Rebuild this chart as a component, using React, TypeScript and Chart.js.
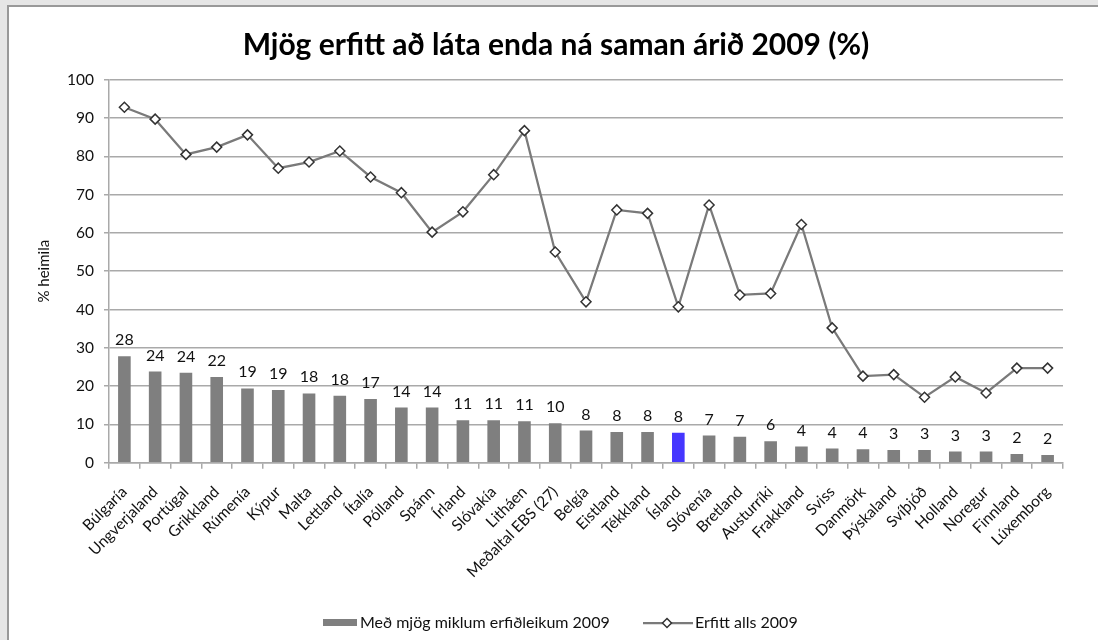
import React, { useEffect, useRef } from "react";
import { Chart, registerables } from "chart.js";

Chart.register(...registerables);

const categories = [
  "Búlgaría", "Ungverjaland", "Portúgal", "Grikkland", "Rúmenía", "Kýpur", "Malta",
  "Lettland", "Ítalía", "Pólland", "Spánn", "Írland", "Slóvakía", "Litháen",
  "Meðaltal EBS (27)", "Belgía", "Eistland", "Tékkland", "Ísland", "Slóvenía",
  "Bretland", "Austurríki", "Frakkland", "Sviss", "Danmörk", "Þýskaland", "Svíþjóð",
  "Holland", "Noregur", "Finnland", "Lúxemborg",
];

const barValues = [
  27.8, 23.8, 23.5, 22.4, 19.4, 19.0, 18.1, 17.5, 16.6, 14.4, 14.4, 11.1, 11.1, 10.8,
  10.3, 8.4, 8.0, 8.0, 7.8, 7.1, 6.8, 5.6, 4.2, 3.7, 3.5, 3.3, 3.3, 2.9, 2.9, 2.3, 2.0,
];

const lineValues = [
  92.8, 89.7, 80.5, 82.4, 85.6, 76.9, 78.5, 81.4, 74.6, 70.5, 60.2, 65.5, 75.2, 86.7,
  55.0, 42.0, 66.0, 65.1, 40.7, 67.3, 43.8, 44.2, 62.2, 35.2, 22.6, 23.0, 17.1, 22.4,
  18.2, 24.7, 24.7,
];

const yTicks = [0, 10, 20, 30, 40, 50, 60, 70, 80, 90, 100];

const titleText = "Mjög erfitt að láta enda ná saman árið 2009 (%)";
const yTitle = "% heimila";
const barLabel = "Með mjög miklum erfiðleikum 2009";
const lineLabel = "Erfitt alls 2009";
const highlight = "Ísland";

const FONT = "Lato, 'Open Sans', sans-serif";
const BAR_GRAY = "#7f7f7f";
const BAR_BLUE = "#4536ff";
const LINE_GRAY = "#7a7a7a";
const GRID = "#a9a9a9";

const CW = 1089;
const CH = 633;

export default function App() {
  const ref = useRef<HTMLCanvasElement>(null);

  useEffect(() => {
    document.body.style.margin = "0";
    const canvas = ref.current;
    if (!canvas) return;

    const extras = {
      id: "extras",
      afterDatasetsDraw(chart: any) {
        const ctx = chart.ctx;
        const meta = chart.getDatasetMeta(1);
        ctx.save();
        ctx.font = `16px ${FONT}`;
        ctx.fillStyle = "#111";
        ctx.textAlign = "center";
        ctx.textBaseline = "alphabetic";
        meta.data.forEach((el: any, i: number) => {
          ctx.fillText(String(Math.round(barValues[i])), el.x, el.y - 11);
        });
        ctx.restore();
      },
      afterDraw(chart: any) {
        const ctx = chart.ctx;
        ctx.save();
        // title
        ctx.font = `bold 30px ${FONT}`;
        ctx.fillStyle = "#000";
        ctx.textAlign = "center";
        ctx.textBaseline = "middle";
        ctx.fillText(titleText, 547, 38);

        // legend
        const ly = 616;
        ctx.fillStyle = BAR_GRAY;
        ctx.fillRect(314, ly - 4, 34, 7);
        ctx.font = `16px ${FONT}`;
        ctx.fillStyle = "#111";
        ctx.textAlign = "left";
        ctx.textBaseline = "middle";
        ctx.fillText(barLabel, 351, ly);

        ctx.strokeStyle = LINE_GRAY;
        ctx.lineWidth = 2.25;
        ctx.beginPath();
        ctx.moveTo(634, ly);
        ctx.lineTo(684, ly);
        ctx.stroke();
        ctx.beginPath();
        const dx = 658, r = 4.5;
        ctx.moveTo(dx, ly - r);
        ctx.lineTo(dx + r, ly);
        ctx.lineTo(dx, ly + r);
        ctx.lineTo(dx - r, ly);
        ctx.closePath();
        ctx.fillStyle = "#fff";
        ctx.fill();
        ctx.strokeStyle = "#333";
        ctx.lineWidth = 1.5;
        ctx.stroke();
        ctx.fillStyle = "#111";
        ctx.fillText(lineLabel, 686, ly);
        ctx.restore();
      },
    };

    const chart = new Chart(canvas, {
      type: "bar",
      data: {
        labels: categories,
        datasets: [
          {
            type: "line",
            label: lineLabel,
            data: lineValues,
            borderColor: LINE_GRAY,
            borderWidth: 2.25,
            pointStyle: "rectRot",
            pointRadius: 5,
            pointBackgroundColor: "#fff",
            pointBorderColor: "#333",
            pointBorderWidth: 1.5,
            tension: 0,
            order: 0,
          } as any,
          {
            type: "bar",
            label: barLabel,
            data: barValues,
            backgroundColor: categories.map((c) => (c === highlight ? BAR_BLUE : BAR_GRAY)),
            categoryPercentage: 1,
            barPercentage: 0.41,
            order: 1,
          },
        ],
      },
      options: {
        responsive: false,
        animation: false,
        events: [],
        layout: { padding: { top: 72.7, right: 35, bottom: 0, left: 0 } },
        plugins: {
          legend: { display: false },
          title: { display: false },
          tooltip: { enabled: false },
        },
        scales: {
          x: {
            offset: true,
            grid: {
              offset: true,
              drawOnChartArea: false,
              drawTicks: true,
              tickLength: 6,
              color: GRID,
              lineWidth: 1.5,
            },
            border: { display: true, color: GRID, width: 1.5 },
            ticks: {
              autoSkip: false,
              maxRotation: 45,
              minRotation: 45,
              padding: 14,
              color: "#111",
              font: { family: FONT, size: 15.5 },
            },
            afterFit: (s: any) => {
              s.height = CH - 455.7;
            },
          },
          y: {
            min: 0,
            max: 100,
            afterBuildTicks: (s: any) => {
              s.ticks = yTicks.map((v) => ({ value: v }));
            },
            ticks: {
              padding: 10,
              color: "#111",
              font: { family: FONT, size: 15.5 },
            },
            grid: { color: GRID, lineWidth: 1.5, tickLength: 5 },
            border: { display: true, color: GRID, width: 1.5 },
            title: {
              display: true,
              text: yTitle,
              color: "#111",
              font: { family: FONT, size: 15 },
              padding: { top: 26, bottom: 0 },
            },
            afterFit: (s: any) => {
              s.width = 100;
            },
          },
        },
      },
      plugins: [extras],
    });

    return () => chart.destroy();
  }, []);

  return (
    <div
      style={{
        position: "relative",
        width: 1098,
        height: 640,
        background: "#e6e6e6",
        overflow: "hidden",
      }}
    >
      <div
        style={{
          position: "absolute",
          left: 7,
          top: 5,
          width: 1091,
          height: 635,
          background: "#fff",
          borderLeft: "2px solid #999",
          borderTop: "2px solid #999",
        }}
      >
        <canvas ref={ref} width={CW} height={CH} style={{ display: "block" }} />
      </div>
    </div>
  );
}
